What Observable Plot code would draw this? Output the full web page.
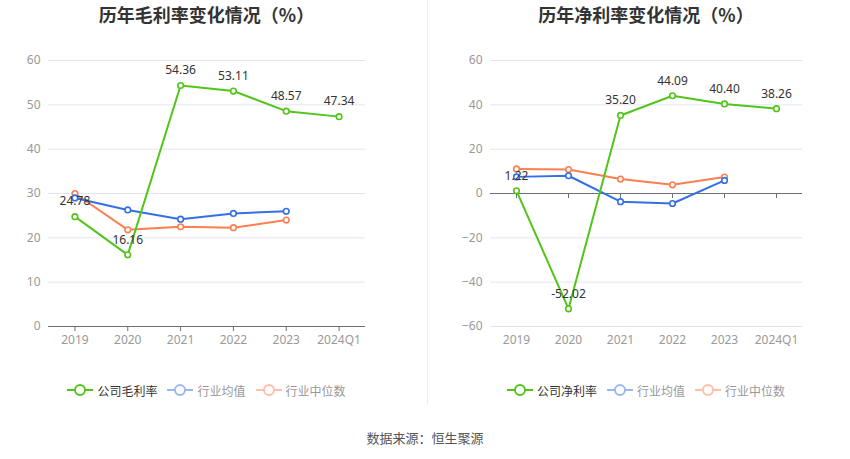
<!DOCTYPE html>
<html><head><meta charset="utf-8">
<script src="https://cdn.jsdelivr.net/npm/d3@7"></script>
<script src="https://cdn.jsdelivr.net/npm/@observablehq/plot@0.6"></script>
<style>
body{margin:0;background:#fff;font-family:"Noto Sans CJK SC","Noto Sans",sans-serif;}
#root{position:relative;width:850px;height:459px;overflow:hidden;}
.panel{position:absolute;top:0;width:425px;}
.title{height:30px;line-height:28px;font-size:18px;font-weight:bold;color:#333;text-align:center;position:relative;}
.legend{position:absolute;top:380px;height:20px;display:flex;justify-content:center;align-items:center;font-size:12px;}
.legend .item{display:flex;align-items:center;margin:0 5px;}
.legend svg{margin-right:4px;}
#divider{position:absolute;left:427px;top:0;width:1px;height:405px;background:#eeeeee;}
#source{position:absolute;top:428px;left:0;width:850px;text-align:center;font-size:13px;color:#555;}
</style></head>
<body><div id="root">
<div id="divider"></div>
<div class="panel" id="left" style="left:0"></div>
<div class="panel" id="right" style="left:425px"></div>
<div id="source">数据来源：恒生聚源</div>
</div>
<script>
const categories = ["2019","2020","2021","2022","2023","2024Q1"];
const grossCompany = [24.78,16.16,54.36,53.11,48.57,47.34];
const grossIndustryAvg = [29.0,26.3,24.2,25.5,26.0];
const grossIndustryMedian = [30.0,21.8,22.5,22.3,24.0];
const netCompany = [1.22,-52.02,35.20,44.09,40.40,38.26];
const netIndustryAvg = [7.5,8.0,-3.7,-4.5,5.9];
const netIndustryMedian = [11.1,10.8,6.5,3.9,7.4];
const grossTicks = [0,10,20,30,40,50,60];
const netTicks = [-60,-40,-20,0,20,40,60];
const titles = ["历年毛利率变化情况（%）","历年净利率变化情况（%）"];
const legendNames = [["公司毛利率","行业均值","行业中位数"],["公司净利率","行业均值","行业中位数"]];

const GREEN="#52c41a", BLUE="#3370e6", ORANGE="#fd7f4f";
const LGREEN="#52c41a", LBLUE="#9bb8f5", LORANGE="#ffbfa8";

function rows(vals){return vals.map((v,i)=>({x:categories[i],y:v}));}

function makeChart(company, avg, median, ticks, domain, ml, mr, zeroAxis){
  const c = rows(company), a = rows(avg), m = rows(median);
  const marks = [
    Plot.gridY(ticks,{stroke:"#e0e6f1",strokeOpacity:1}),
    Plot.axisY(ticks,{tickSize:0,tickPadding:8,label:null,fill:"#999",fontSize:12}),
    Plot.ruleY([0],{stroke:"#6e7079"}),
  ];
  if(zeroAxis){
    marks.push(Plot.axisX({tickSize:0,tickPadding:9,label:null,fill:"#999",fontSize:12}));
    marks.push(Plot.ruleX(categories,{x:d=>d,y1:0,y2:-(domain[1]-domain[0])*5/266,stroke:"#6e7079"}));
  } else {
    marks.push(Plot.axisX({tickSize:5,tickPadding:4,label:null,fill:"#999",fontSize:12,stroke:"#6e7079"}));
  }
  for(const [d,col] of [[m,ORANGE],[a,BLUE],[c,GREEN]]){
    marks.push(Plot.line(d,{x:"x",y:"y",stroke:col,strokeWidth:2}));
    marks.push(Plot.dot(d,{x:"x",y:"y",r:2.8,fill:"white",stroke:col,strokeWidth:1.6}));
  }
  marks.push(Plot.text(c,{x:"x",y:"y",text:d=>d.y.toFixed(2),dy:-15,fill:"#333",fontSize:12}));
  return Plot.plot({
    width:425,height:330,marginTop:30,marginBottom:34,marginLeft:ml,marginRight:mr,
    style:{fontFamily:"'Noto Sans','Noto Sans CJK SC',sans-serif",background:"transparent"},
    x:{type:"point",domain:categories,padding:0.5,round:false,label:null,axis:null},
    y:{domain:domain,label:null,axis:null},
    marks
  });
}

function legendIcon(col){
  return `<svg width="26" height="14"><line x1="0" y1="7" x2="26" y2="7" stroke="${col}" stroke-width="2"/><circle cx="13" cy="7" r="5" fill="white" stroke="${col}" stroke-width="2"/></svg>`;
}

function buildPanel(el, idx, chart, ml, mr){
  const t = document.createElement("div");
  t.className="title";
  t.style.marginLeft = ml+"px"; t.style.marginRight = mr+"px";
  t.textContent = titles[idx];
  el.appendChild(t);
  el.appendChild(chart);
  const lg = document.createElement("div");
  lg.className="legend";
  lg.style.left = ml+"px"; lg.style.width = (425-ml-mr)+"px";
  const cols=[LGREEN,LBLUE,LORANGE], tc=["#333","#999","#999"];
  lg.innerHTML = legendNames[idx].map((n,i)=>`<span class="item">${legendIcon(cols[i])}<span style="color:${tc[i]}">${n}</span></span>`).join("");
  el.appendChild(lg);
}

buildPanel(document.getElementById("left"),0,
  makeChart(grossCompany,grossIndustryAvg,grossIndustryMedian,grossTicks,[0,60],48,60,false),48,60);
buildPanel(document.getElementById("right"),1,
  makeChart(netCompany,netIndustryAvg,netIndustryMedian,netTicks,[-60,60],65,48,true),65,48);
</script>
</body></html>
